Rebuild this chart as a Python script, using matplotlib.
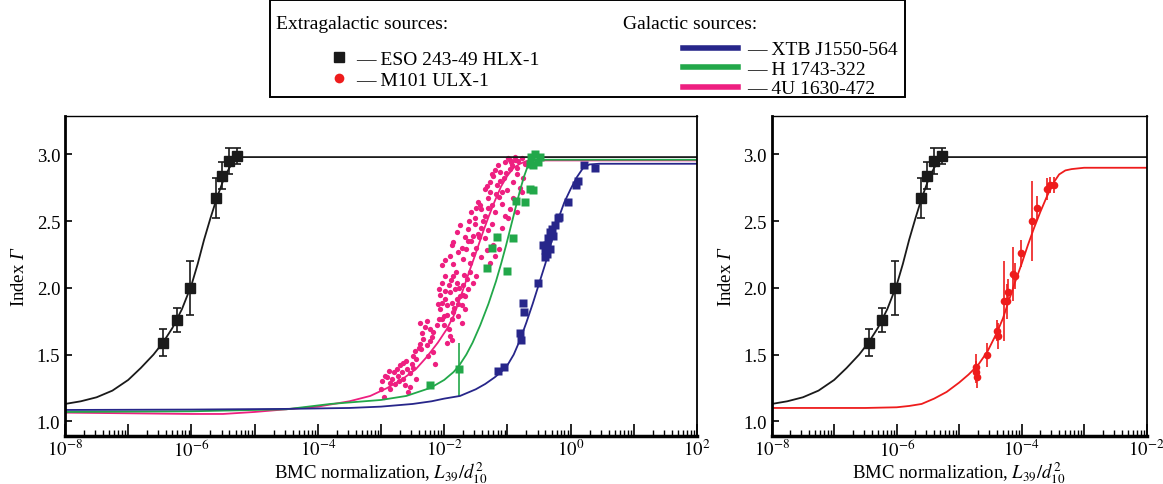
import matplotlib
matplotlib.use("Agg")
import matplotlib.pyplot as plt
import numpy as np
from matplotlib.lines import Line2D
from matplotlib.patches import Rectangle
from matplotlib.ticker import FixedLocator, FuncFormatter

plt.rcParams["font.family"] = ["Liberation Serif", "DejaVu Serif"]
plt.rcParams["mathtext.fontset"] = "stix"
# the "custom" set is only used for the y label, to get an italic Gamma
plt.rcParams["mathtext.rm"] = "Liberation Serif:italic"
plt.rcParams["mathtext.it"] = "Liberation Serif:italic"

# --- data (x as log10 of BMC normalization) ---

# ESO 243-49 HLX-1
hlx_logx = [-6.45, -6.23, -6.02, -5.61, -5.52, -5.40, -5.28]
hlx_gamma = [1.59, 1.76, 2.00, 2.67, 2.84, 2.95, 2.99]
hlx_err = [0.10, 0.09, 0.20, 0.15, 0.10, 0.10, 0.06]
hlx_fit_logx = [-8.0, -7.75, -7.5, -7.25, -7.0, -6.8, -6.6, -6.45, -6.3, -6.15,
                -6.0, -5.9, -5.8, -5.7, -5.6, -5.5, -5.4, -5.3, -5.2, -5.0, 2.0]
hlx_fit_gamma = [1.13, 1.15, 1.18, 1.23, 1.31, 1.40, 1.50, 1.59, 1.70, 1.84,
                 2.02, 2.18, 2.36, 2.52, 2.67, 2.80, 2.90, 2.96, 2.98, 2.98, 2.98]

# XTB J1550-564
xtb_logx = [-1.15, -1.06, -0.80, -0.78, -0.75, -0.73, -0.52, -0.44, -0.41,
            -0.41, -0.38, -0.355, -0.33, -0.33, -0.30, -0.28, -0.25, -0.20,
            -0.18, -0.38, -0.04, 0.09, 0.12, 0.22, 0.38]
xtb_gamma = [1.38, 1.41, 1.66, 1.61, 1.89, 1.82, 2.04, 2.32, 2.23,
             2.28, 2.32, 2.37, 2.42, 2.29, 2.44, 2.39, 2.47, 2.52,
             2.53, 2.25, 2.64, 2.77, 2.80, 2.92, 2.90]
xtb_fit_logx = [-8.0, -6.0, -4.5, -3.5, -3.0, -2.5, -2.2, -2.0, -1.75, -1.5,
                -1.35, -1.2, -1.1, -1.0, -0.9, -0.8, -0.7, -0.6, -0.5, -0.4,
                -0.3, -0.2, -0.1, 0.0, 0.1, 0.2, 0.3, 0.45, 2.0]
xtb_fit_gamma = [1.085, 1.088, 1.093, 1.10, 1.11, 1.13, 1.15, 1.17, 1.19, 1.24,
                 1.28, 1.33, 1.37, 1.42, 1.50, 1.61, 1.74, 1.88, 2.03, 2.18,
                 2.35, 2.51, 2.64, 2.74, 2.83, 2.90, 2.925, 2.93, 2.93]

# H 1743-322
h17_logx = [-2.22, -1.76, -1.33, -1.25, -1.17, -1.01, -0.91, -0.86, -0.72,
            -0.64, -0.59, -0.62, -0.57, -0.52, -0.59, -0.48, -0.64]
h17_gamma = [1.27, 1.39, 2.15, 2.30, 2.38, 2.13, 2.37, 2.65, 2.64,
             2.74, 2.73, 2.98, 3.00, 2.94, 2.92, 2.98, 2.93]
h17_err = [0, 0.2, 0, 0, 0, 0, 0, 0, 0, 0, 0, 0, 0, 0, 0, 0, 0]
h17_fit_logx = [-8.0, -6.0, -4.5, -3.8, -3.0, -2.6, -2.22, -2.0, -1.85, -1.76,
                -1.65, -1.55, -1.43, -1.3, -1.18, -1.1, -1.02, -0.94, -0.86,
                -0.8, -0.74, -0.68, -0.62, -0.55, 2.0]
h17_fit_gamma = [1.07, 1.075, 1.09, 1.13, 1.16, 1.19, 1.25, 1.31, 1.37, 1.42,
                 1.50, 1.59, 1.72, 1.88, 2.05, 2.18, 2.32, 2.47, 2.62,
                 2.73, 2.83, 2.91, 2.95, 2.96, 2.96]

# 4U 1630-472
u16_logx = [
    -2.96, -2.94, -2.88, -2.86, -2.83, -2.80, -2.75, -2.73, -2.70, -2.67,
    -2.65, -2.65, -2.59, -2.57, -2.54, -2.51, -2.49, -2.46, -2.44, -2.38,
    -2.36, -2.33, -2.30, -2.28, -2.25, -2.23, -2.20, -2.17, -2.15, -2.12,
    -2.09, -2.07, -2.04, -2.01, -1.99, -1.96, -1.93, -1.91, -1.88, -1.86,
    -1.83, -1.80, -1.75, -1.72, -1.70, -1.67, -1.64, -1.62, -1.59, -1.54,
    -1.49, -2.38, -2.28, -2.17, -1.88, -1.96, -1.91, -2.54, -2.44, -2.86,
    -2.78, -2.09, -2.04, -1.99, -1.93, -1.86, -1.80, -1.78, -1.72, -1.67,
    -2.04, -1.88, -3.00, -2.98, -2.62,
    -2.06, -1.98, -1.90, -1.82, -1.76, -1.68, -1.95, -1.85, -1.78, -2.10,
    -2.00, -1.70, -2.90, -2.72, -2.60, -2.50, -2.40, -2.22, -2.35,
    -2.04, -1.99, -1.91, -1.86, -1.78, -1.70, -1.65, -1.59, -1.54, -1.49,
    -1.41, -1.33, -1.28, -1.88, -1.20, -1.14, -1.72, -1.62,
    -1.86, -1.80, -1.75, -1.67, -1.62, -1.57, -1.51, -1.46, -1.41, -1.35,
    -1.30, -1.25, -1.54, -1.17, -1.09, -1.22, -1.45, -1.38,
    -1.57, -1.51, -1.46, -1.41, -1.35, -1.30, -1.25, -1.20, -1.14, -1.09,
    -1.04, -1.28, -1.49, -0.96, -0.91, -0.99, -0.85, -1.60, -1.44, -1.30,
    -1.35, -1.28, -1.22, -1.17, -1.12, -1.06, -1.01, -0.96, -0.91, -0.85,
    -0.80, -1.20, -1.09, -0.75, -0.77, -1.18, -1.12, -1.32, -1.25,
    -1.04, -0.99, -0.93, -0.88, -0.83, -0.77, -0.72, -0.96, -0.85, -1.02,
    -0.95, -0.88, -1.15,
]
u16_gamma = [
    1.18, 1.34, 1.38, 1.29, 1.32, 1.37, 1.39, 1.34, 1.42, 1.37,
    1.44, 1.32, 1.39, 1.22, 1.36, 1.43, 1.49, 1.53, 1.47, 1.58,
    1.54, 1.62, 1.71, 1.57, 1.49, 1.69, 1.63, 1.52, 1.43, 1.72,
    1.77, 1.84, 1.89, 1.79, 1.92, 1.87, 1.69, 1.97, 1.89, 1.82,
    1.99, 1.92, 1.94, 1.87, 2.02, 1.84, 2.07, 1.99, 2.12, 2.04,
    2.09, 1.74, 1.75, 1.67, 1.61, 1.59, 1.64, 1.26, 1.32, 1.24,
    1.28, 1.99, 2.04, 2.09, 2.02, 2.09, 2.04, 1.79, 1.74, 1.94,
    1.77, 1.77, 1.24, 1.30, 1.27,
    1.95, 1.98, 2.06, 2.12, 2.00, 2.10, 1.80, 1.85, 1.88, 1.88,
    1.72, 1.95, 1.33, 1.30, 1.45, 1.40, 1.55, 1.60, 1.66,
    2.17, 2.21, 2.24, 2.18, 2.27, 2.22, 2.29, 2.19, 2.25, 2.30,
    2.23, 2.28, 2.19, 2.32, 2.24, 2.29, 2.30, 2.35,
    2.34, 2.42, 2.47, 2.38, 2.44, 2.35, 2.48, 2.40, 2.45, 2.37,
    2.43, 2.48, 2.39, 2.39, 2.45, 2.32, 2.38, 2.50,
    2.57, 2.52, 2.64, 2.59, 2.54, 2.67, 2.62, 2.57, 2.68, 2.63,
    2.54, 2.72, 2.60, 2.59, 2.67, 2.52, 2.57, 2.50, 2.62, 2.60,
    2.74, 2.79, 2.84, 2.77, 2.87, 2.82, 2.73, 2.89, 2.79, 2.85,
    2.75, 2.88, 2.72, 2.82, 2.72, 2.70, 2.80, 2.76, 2.85,
    2.94, 2.97, 2.92, 2.98, 2.95, 2.97, 2.93, 2.96, 2.90, 2.86,
    2.94, 2.96, 2.92,
]
u16_fit_logx = [-8.0, -7.0, -6.0, -5.5, -5.0, -4.5, -4.0, -3.5, -3.17, -2.9,
                -2.65, -2.45, -2.28, -2.1, -1.96, -1.85, -1.75, -1.67, -1.59,
                -1.5, -1.4, -1.3, -1.2, -1.1, -1.0, -0.9, -0.8, -0.7, -0.6, 2.0]
u16_fit_gamma = [1.065, 1.06, 1.055, 1.055, 1.07, 1.09, 1.11, 1.15, 1.19, 1.25,
                 1.32, 1.39, 1.48, 1.59, 1.69, 1.79, 1.92, 2.03, 2.14,
                 2.26, 2.40, 2.53, 2.65, 2.76, 2.84, 2.90, 2.93, 2.95, 2.955, 2.955]

# M101 ULX-1
ulx_logx = [-4.73, -4.71, -4.73, -4.56, -4.40, -4.38, -4.28, -4.24, -4.21,
            -4.13, -4.10, -4.01, -3.83, -3.75, -3.60, -3.55, -3.48]
ulx_gamma = [1.37, 1.33, 1.405, 1.50, 1.68, 1.64, 1.90, 1.90, 1.97,
             2.105, 2.09, 2.26, 2.50, 2.60, 2.74, 2.77, 2.77]
ulx_err = [0.08, 0.08, 0.10, 0.09, 0.08, 0.10, 0.30, 0.13, 0.10,
           0.20, 0.10, 0.10, 0.30, 0.09, 0.08, 0.06, 0.06]
ulx_fit_logx = [-8.0, -6.5, -6.0, -5.8, -5.6, -5.4, -5.2, -5.0, -4.85, -4.7,
                -4.55, -4.4, -4.3, -4.2, -4.1, -4.0, -3.9, -3.8, -3.7, -3.6,
                -3.5, -3.4, -3.3, -3.2, -3.0, -2.0]
ulx_fit_gamma = [1.10, 1.10, 1.105, 1.115, 1.13, 1.17, 1.22, 1.29, 1.35, 1.42,
                 1.52, 1.66, 1.77, 1.91, 2.05, 2.18, 2.32, 2.45, 2.57, 2.68,
                 2.78, 2.85, 2.88, 2.89, 2.90, 2.90]

C_BLACK = "#1a1a1a"
C_BLUE = "#27268a"
C_GREEN = "#22a84a"
C_PINK = "#ee1f80"
C_RED = "#ee1c1c"


def x(v):
    return 10.0 ** np.asarray(v, dtype=float)


def style_axes(ax, lo, hi):
    ax.set_xscale("log")
    ax.set_xlim(10.0 ** lo, 10.0 ** hi)
    ax.set_ylim(0.89, 3.288)
    ax.xaxis.set_major_locator(FixedLocator(10.0 ** np.arange(lo, hi + 1)))
    ax.xaxis.set_minor_locator(FixedLocator(
        [m * 10.0 ** e for e in range(lo, hi) for m in range(2, 10)]))
    ax.xaxis.set_major_formatter(FuncFormatter(
        lambda v, p: r"$10^{%d}$" % round(np.log10(v))
        if round(np.log10(v)) % 2 == 0 else ""))
    ax.set_yticks([1.0, 1.5, 2.0, 2.5, 3.0])
    ax.yaxis.set_major_formatter(FuncFormatter(lambda v, p: "%.1f" % v))
    ax.tick_params(axis="x", which="major", direction="in", length=9,
                   width=1.2, labelsize=13.5, pad=2, top=False)
    ax.tick_params(axis="x", which="minor", direction="in", length=4.5,
                   width=1.0, top=False)
    ax.tick_params(axis="y", direction="in", length=5, width=1.2,
                   labelsize=13.5, right=False)
    ax.spines["bottom"].set_linewidth(2.5)
    ax.spines["left"].set_linewidth(2.0)
    ax.spines["top"].set_linewidth(1.0)
    ax.spines["right"].set_linewidth(1.3)
    ax.set_xlabel(r"BMC normalization, $L_{39}/d_{10}^{2}$", fontsize=13.5,
                  labelpad=-1)
    ax.set_ylabel(r"Index $\Gamma$", fontsize=13.5, labelpad=6)
    ax.yaxis.label.set_math_fontfamily("custom")


fig = plt.figure(figsize=(11.63, 4.85), dpi=100)
ax1 = fig.add_axes([0.0559, 0.099, 0.5434, 0.6598])
ax2 = fig.add_axes([0.6635, 0.099, 0.3224, 0.6598])

# left panel
ax1.plot(x(u16_logx), u16_gamma, "o", ms=3.8, color=C_PINK, mec="none")
ax1.plot(x(xtb_logx), xtb_gamma, "s", ms=6, color=C_BLUE, mec="none")
ax1.errorbar(x(h17_logx), h17_gamma, yerr=h17_err, fmt="s", ms=5.5,
             color=C_GREEN, mec="none", elinewidth=1.2, capsize=0)
ax1.plot(x(u16_fit_logx), u16_fit_gamma, color=C_PINK, lw=1.3)
ax1.plot(x(h17_fit_logx), h17_fit_gamma, color=C_GREEN, lw=1.3)
ax1.plot(x(xtb_fit_logx), xtb_fit_gamma, color=C_BLUE, lw=1.3)
ax1.plot(x(hlx_fit_logx), hlx_fit_gamma, color=C_BLACK, lw=1.3)
ax1.errorbar(x(hlx_logx), hlx_gamma, yerr=hlx_err, fmt="s", ms=6.5,
             color=C_BLACK, elinewidth=1.2, capsize=3, capthick=1.2)
style_axes(ax1, -8, 2)

# right panel
ax2.plot(x(hlx_fit_logx), hlx_fit_gamma, color=C_BLACK, lw=1.3)
ax2.errorbar(x(hlx_logx), hlx_gamma, yerr=hlx_err, fmt="s", ms=6.5,
             color=C_BLACK, elinewidth=1.2, capsize=3, capthick=1.2)
ax2.plot(x(ulx_fit_logx), ulx_fit_gamma, color=C_RED, lw=1.3)
ax2.errorbar(x(ulx_logx), ulx_gamma, yerr=ulx_err, fmt="o", ms=5.5,
             color=C_RED, mec="none", elinewidth=1.2, capsize=0)
style_axes(ax2, -8, -2)

# legend box above the left panel
fig.add_artist(Rectangle((0.2322, 0.798), 0.546, 0.199, transform=fig.transFigure,
                         fill=False, lw=1.4, ec="black"))
fig.text(0.2373, 0.9505, "Extragalactic sources:", fontsize=14, va="center")
fig.text(0.5357, 0.9505, "Galactic sources:", fontsize=14, va="center")

extra = [Line2D([], [], ls="none", marker="s", ms=7, color=C_BLACK),
         Line2D([], [], ls="none", marker="o", ms=7, color=C_RED, mec="none")]
fig.legend(extra, ["\u2014 ESO 243-49 HLX-1", "\u2014 M101 ULX-1"],
           loc="upper left", bbox_to_anchor=(0.283, 0.895), frameon=False,
           fontsize=14, handlelength=1.0, handletextpad=0.4, labelspacing=0.2,
           borderpad=0, borderaxespad=0)
gal = [Line2D([], [], color=C_BLUE, lw=4),
       Line2D([], [], color=C_GREEN, lw=4),
       Line2D([], [], color=C_PINK, lw=4)]
fig.legend(gal, ["\u2014 XTB J1550-564", "\u2014 H 1743-322", "\u2014 4U 1630-472"],
           loc="upper left", bbox_to_anchor=(0.5873, 0.914), frameon=False,
           fontsize=14, handlelength=2.83, handletextpad=0.46, labelspacing=0.1,
           borderpad=0, borderaxespad=0)

fig.savefig("out.png", dpi=100)
